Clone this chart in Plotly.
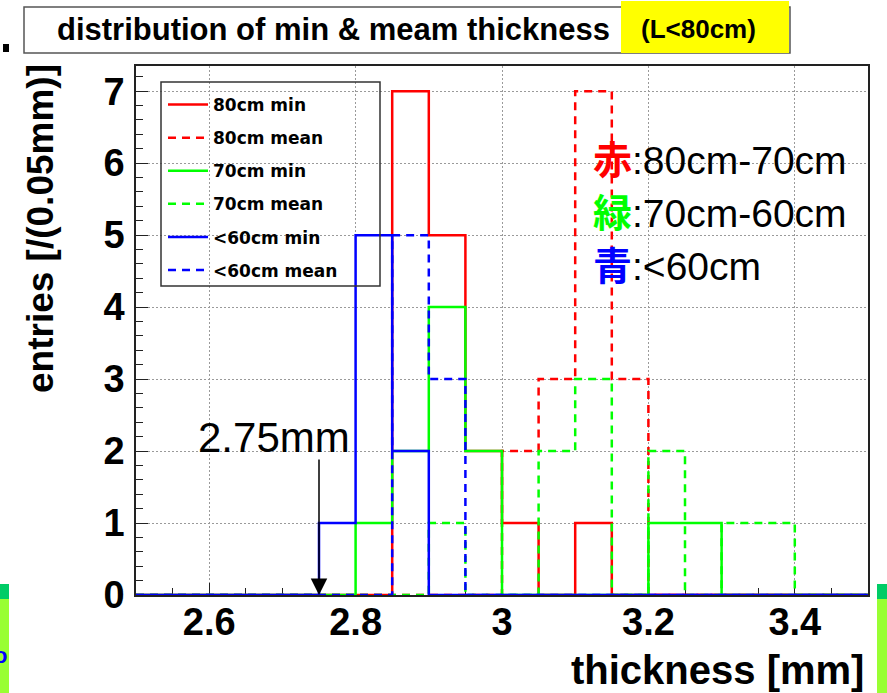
import plotly.graph_objects as go

# Histogram binning (thickness in mm)
bin_start = 2.5
bin_width = 0.05
n_bins = 20
edges = [round(bin_start + i * bin_width, 2) for i in range(n_bins + 1)]

# Entries per 0.05 mm bin, starting at 2.50 mm
red_min = [0, 0, 0, 0, 0, 0, 0, 7, 5, 2, 1, 0, 1, 0, 0, 0, 0, 0, 0, 0]
red_mean = [0, 0, 0, 0, 0, 0, 0, 0, 0, 0, 2, 3, 7, 3, 0, 0, 0, 0, 0, 0]
green_min = [0, 0, 0, 0, 0, 0, 1, 2, 4, 2, 0, 0, 0, 0, 1, 1, 0, 0, 0, 0]
green_mean = [0, 0, 0, 0, 0, 0, 0, 0, 1, 0, 0, 2, 3, 0, 2, 0, 1, 1, 0, 0]
blue_min = [0, 0, 0, 0, 0, 1, 5, 2, 0, 0, 0, 0, 0, 0, 0, 0, 0, 0, 0, 0]
blue_mean = [0, 0, 0, 0, 0, 0, 0, 5, 3, 0, 0, 0, 0, 0, 0, 0, 0, 0, 0, 0]

series_names = ["80cm min", "80cm mean", "70cm min", "70cm mean", "<60cm min", "<60cm mean"]
series_values = [red_min, red_mean, green_min, green_mean, blue_min, blue_mean]
series_colors = ["#ff0000", "#ff0000", "#00ff00", "#00ff00", "#0000ff", "#0000ff"]
series_dash = ["solid", "8px,6px", "solid", "8px,6px", "solid", "8px,6px"]

x_ticks = [2.6, 2.8, 3.0, 3.2, 3.4]
x_ticktext = ["2.6", "2.8", "3", "3.2", "3.4"]
y_ticks = [0, 1, 2, 3, 4, 5, 6, 7]
y_ticktext = ["0", "1", "2", "3", "4", "5", "6", "7"]

x_range = [2.5, 3.5]
y_range = [0, 7.35]
cut_value = 2.75

W, H = 887, 693
ML, MR, MT, MB = 136, 19, 66, 98
PW, PH = W - ML - MR, H - MT - MB


def px(xpix):
    """pixel column -> paper x"""
    return (xpix - ML) / PW


def py(ypix):
    """pixel row -> paper y"""
    return (H - MB - ypix) / PH


fig = go.Figure()

for name, vals, col, dash in zip(series_names, series_values, series_colors, series_dash):
    fig.add_trace(go.Scatter(
        x=edges,
        y=vals + [vals[-1]],
        mode="lines",
        line=dict(shape="hv", color=col, width=2.5, dash=dash),
        name=name,
        legendgroup=name,
    ))

LATIN = "Liberation Sans, Arial, sans-serif"
CJK = "Liberation Sans, Noto Sans CJK JP, sans-serif"


def label(text, xpix, ypix, size, xanchor="center", bold=False, color="black",
          family=LATIN, angle=0):
    return dict(text=text, x=px(xpix), y=py(ypix), xref="paper", yref="paper",
                xanchor=xanchor, yanchor="middle", showarrow=False, textangle=angle,
                font=dict(family=family, size=size, color=color,
                          weight="bold" if bold else "normal"))


annotations = [
    # axis titles
    label("entries [/(0.05mm)]", 40, 229, 37, bold=True, angle=-90),
    label("thickness [mm]", 866, 670, 40, xanchor="right", bold=True),
    # cut marker
    label("2.75mm", 274, 437, 42),
    dict(text="", x=cut_value, y=0, xref="x", yref="y", ax=0, ay=-137,
         showarrow=True, arrowhead=2, arrowsize=2.2, arrowwidth=1.5,
         arrowcolor="black"),
    # colour key
    label("<b><span style='color:#ff0000'>赤</span></b>:80cm-70cm", 591, 160, 39,
          xanchor="left", family=CJK),
    label("<b><span style='color:#00ff00'>緑</span></b>:70cm-60cm", 591, 213, 39,
          xanchor="left", family=CJK),
    label("<b><span style='color:#0000ff'>青</span></b>:<60cm", 591, 266, 39,
          xanchor="left", family=CJK),
    # title
    label("distribution of min & meam thickness", 55, 29, 31, xanchor="left", bold=True),
    label("(L<80cm)", 698, 29, 26, bold=True),
    label("o", 0, 655, 22, bold=True, color="#0000ff"),
]

shapes = [
    # title box
    dict(type="rect", xref="paper", yref="paper", x0=px(24), x1=px(790), y0=py(53), y1=py(7),
         fillcolor="white", line=dict(color="#555555", width=1.5), layer="above"),
    dict(type="rect", xref="paper", yref="paper", x0=px(621), x1=px(789), y0=py(53), y1=py(1),
         fillcolor="#ffff00", line=dict(width=0), layer="above"),
    dict(type="rect", xref="paper", yref="paper", x0=px(3), x1=px(9), y0=py(52), y1=py(44),
         fillcolor="black", line=dict(width=0), layer="above"),
    # side strips
    dict(type="rect", xref="paper", yref="paper", x0=px(0), x1=px(9), y0=py(599), y1=py(584),
         fillcolor="#00cc66", line=dict(width=0)),
    dict(type="rect", xref="paper", yref="paper", x0=px(0), x1=px(9), y0=py(693), y1=py(599),
         fillcolor="#99ff33", line=dict(width=0)),
    dict(type="rect", xref="paper", yref="paper", x0=px(877), x1=px(887), y0=py(599), y1=py(584),
         fillcolor="#00cc66", line=dict(width=0)),
    dict(type="rect", xref="paper", yref="paper", x0=px(877), x1=px(887), y0=py(693), y1=py(599),
         fillcolor="#99ff33", line=dict(width=0)),
    # legend frame
    dict(type="rect", xref="paper", yref="paper", x0=px(161), x1=px(380), y0=py(286), y1=py(82),
         fillcolor="rgba(0,0,0,0)", line=dict(color="#333333", width=1.5), layer="above"),
]

axis_common = dict(
    showline=True, linecolor="#222222", linewidth=1.5, mirror=True,
    ticks="inside", ticklen=12, tickwidth=1.2, tickcolor="#222222",
    showgrid=True, gridcolor="#9a9a9a", gridwidth=1, griddash="2px,2px",
    zeroline=False, layer="below traces",
    tickfont=dict(family=LATIN, size=38, color="black", weight="bold"),
)

fig.update_layout(
    width=W, height=H,
    margin=dict(l=ML, r=MR, t=MT, b=MB),
    paper_bgcolor="white", plot_bgcolor="white",
    xaxis=dict(range=x_range, tickmode="array", tickvals=x_ticks, ticktext=x_ticktext,
               ticklabelstandoff=-7,
               minor=dict(tickmode="linear", tick0=2.5, dtick=0.05, ticks="inside",
                          ticklen=7, tickcolor="#222222", showgrid=False),
               **axis_common),
    yaxis=dict(range=y_range, tickmode="array", tickvals=y_ticks, ticktext=y_ticktext,
               ticklabelstandoff=2,
               minor=dict(tickmode="linear", tick0=0, dtick=0.2, ticks="inside",
                          ticklen=7, tickcolor="#222222", showgrid=False),
               **axis_common),
    showlegend=True,
    legend=dict(x=px(163), y=py(87), xanchor="left", yanchor="top",
                bgcolor="rgba(0,0,0,0)", borderwidth=0,
                font=dict(family="DejaVu Sans", size=17, color="black", weight="bold"),
                itemwidth=40, tracegroupgap=8, traceorder="grouped"),
    annotations=annotations,
    shapes=shapes,
)

fig.write_html("out.html")
